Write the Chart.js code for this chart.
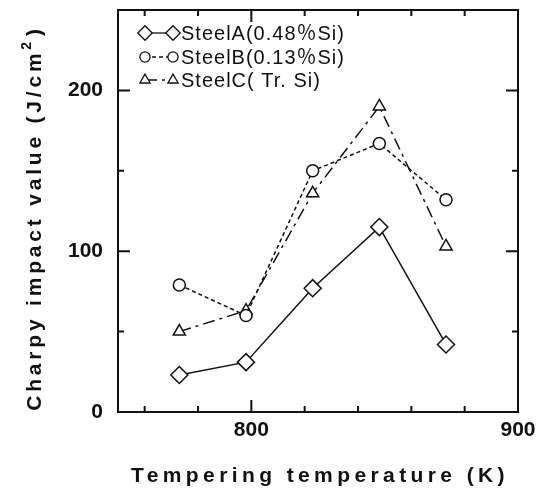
<!DOCTYPE html>
<html>
<head>
<meta charset="utf-8">
<script src="https://cdn.jsdelivr.net/npm/chart.js@4/dist/chart.umd.min.js"></script>
<style>
  body { margin: 0; background: #fff; }
  #box { width: 543px; height: 490px; }
</style>
</head>
<body>
<div id="box"><canvas id="grafico" width="543" height="490"></canvas></div>
<script>
// dados
var temperaturas = [773, 798, 823, 848, 873];
var aco_a = [23, 31, 77, 115, 42];
var aco_b = [79, 60, 150, 167, 132];
var aco_c = [50, 63, 136, 190, 103];
var nomes = ["SteelA(0.48％Si)", "SteelB(0.13％Si)", "SteelC( Tr. Si)"];
var ticks_x = [760, 780, 800, 820, 840, 860, 880, 900];
var rotulos_x = [800, 900];
var rotulos_y = [0, 100, 200];

var fonte = "'Liberation Sans', Arial, 'Noto Sans CJK JP', sans-serif";

function pares(valores) {
	return temperaturas.map(function (t, i) {
		return { x: t, y: valores[i] };
	});
}

function sem_padding(scale) {
	scale.paddingTop = 0;
	scale.paddingBottom = 0;
	scale.paddingLeft = 0;
	scale.paddingRight = 0;
}

// moldura, ticks para dentro, legenda e titulos
var extras = {
	id: "extras",
	afterDraw: function (chart) {
		var ctx = chart.ctx;
		var area = chart.chartArea;
		var sx = chart.scales.x;
		var sy = chart.scales.y;
		ctx.save();
		ctx.strokeStyle = "#111";
		ctx.lineWidth = 2;
		ctx.strokeRect(area.left, area.top, area.right - area.left, area.bottom - area.top);

		ctx.beginPath();
		ticks_x.forEach(function (v) {
			var px = sx.getPixelForValue(v);
			var len = rotulos_x.indexOf(v) >= 0 ? 12 : 6;
			ctx.moveTo(px, area.bottom);
			ctx.lineTo(px, area.bottom - len);
			ctx.moveTo(px, area.top);
			ctx.lineTo(px, area.top + len);
		});
		for (var v = 50; v < 250; v += 50) {
			var py = sy.getPixelForValue(v);
			var len = v % 100 == 0 ? 12 : 6;
			ctx.moveTo(area.left, py);
			ctx.lineTo(area.left + len, py);
			ctx.moveTo(area.right, py);
			ctx.lineTo(area.right - len, py);
		}
		ctx.stroke();

		// legenda
		var linhas_y = [33, 57, 80];
		chart.data.datasets.forEach(function (ds, i) {
			var y = linhas_y[i];
			var r = ds.pointRadius * 0.85;
			ctx.strokeStyle = "#111";
			ctx.lineWidth = 1.3;
			ctx.setLineDash(ds.borderDash || []);
			ctx.beginPath();
			ctx.moveTo(145, y);
			ctx.lineTo(173, y);
			ctx.stroke();
			ctx.setLineDash([]);
			[145, 173].forEach(function (x) {
				ctx.fillStyle = "#fff";
				Chart.helpers.drawPoint(ctx, { pointStyle: ds.pointStyle, radius: r, borderWidth: 1.3 }, x, y);
			});
			ctx.fillStyle = "#111";
			ctx.font = "20px " + fonte;
			ctx.letterSpacing = "1px";
			ctx.textAlign = "left";
			ctx.textBaseline = "middle";
			ctx.fillText(ds.label, 181, y + 1);
		});

		// titulo eixo x
		ctx.font = "bold 21px " + fonte;
		ctx.letterSpacing = "4.4px";
		ctx.textAlign = "center";
		ctx.textBaseline = "alphabetic";
		ctx.fillText("Tempering temperature (K)", 320, 482);

		// titulo eixo y
		ctx.letterSpacing = "3.8px";
		ctx.translate(41, 219);
		ctx.rotate(-Math.PI / 2);
		var txt = "Charpy impact value (J/cm";
		var w1 = ctx.measureText(txt).width;
		ctx.font = "bold 14px " + fonte;
		var w2 = ctx.measureText("2").width;
		ctx.font = "bold 21px " + fonte;
		var w3 = ctx.measureText(")").width;
		var x0 = -(w1 + w2 + w3) / 2;
		ctx.textAlign = "left";
		ctx.fillText(txt, x0, 0);
		ctx.font = "bold 14px " + fonte;
		ctx.fillText("2", x0 + w1, -10);
		ctx.font = "bold 21px " + fonte;
		ctx.fillText(")", x0 + w1 + w2 + 2, 0);
		ctx.restore();
	}
};

new Chart(document.getElementById("grafico"), {
	type: "line",
	data: {
		datasets: [
			{
				label: nomes[0],
				data: pares(aco_a),
				borderColor: "#111",
				borderWidth: 1.5,
				pointStyle: "rectRot",
				pointRadius: 8.5,
				pointBackgroundColor: "#fff",
				pointBorderColor: "#111",
				pointBorderWidth: 1.5,
			},
			{
				label: nomes[1],
				data: pares(aco_b),
				borderColor: "#111",
				borderWidth: 1.5,
				borderDash: [4, 3],
				pointStyle: "circle",
				pointRadius: 6,
				pointBackgroundColor: "#fff",
				pointBorderColor: "#111",
				pointBorderWidth: 1.5,
			},
			{
				label: nomes[2],
				data: pares(aco_c),
				borderColor: "#111",
				borderWidth: 1.5,
				borderDash: [12, 5, 3, 5],
				pointStyle: "triangle",
				pointRadius: 7,
				pointBackgroundColor: "#fff",
				pointBorderColor: "#111",
				pointBorderWidth: 1.5,
			},
		],
	},
	options: {
		responsive: false,
		animation: false,
		layout: { autoPadding: false, padding: { top: 10, right: 25, left: 0, bottom: 0 } },
		plugins: {
			legend: { display: false },
			tooltip: { enabled: false },
		},
		scales: {
			x: {
				type: "linear",
				min: 750,
				max: 900,
				afterBuildTicks: function (scale) {
					scale.ticks = rotulos_x.map(function (v) { return { value: v }; });
				},
				afterFit: function (scale) {
					scale.height = 78;
					sem_padding(scale);
				},
				grid: { display: false, drawTicks: false },
				border: { display: false },
				ticks: {
					padding: 6,
					color: "#111",
					font: { family: fonte, size: 21, weight: "bold" },
				},
			},
			y: {
				min: 0,
				max: 250,
				afterBuildTicks: function (scale) {
					scale.ticks = rotulos_y.map(function (v) { return { value: v }; });
				},
				afterFit: function (scale) {
					scale.width = 118;
					sem_padding(scale);
				},
				grid: { display: false, drawTicks: false },
				border: { display: false },
				ticks: {
					padding: 15,
					color: "#111",
					font: { family: fonte, size: 21, weight: "bold" },
				},
			},
		},
	},
	plugins: [extras],
});
</script>
</body>
</html>
